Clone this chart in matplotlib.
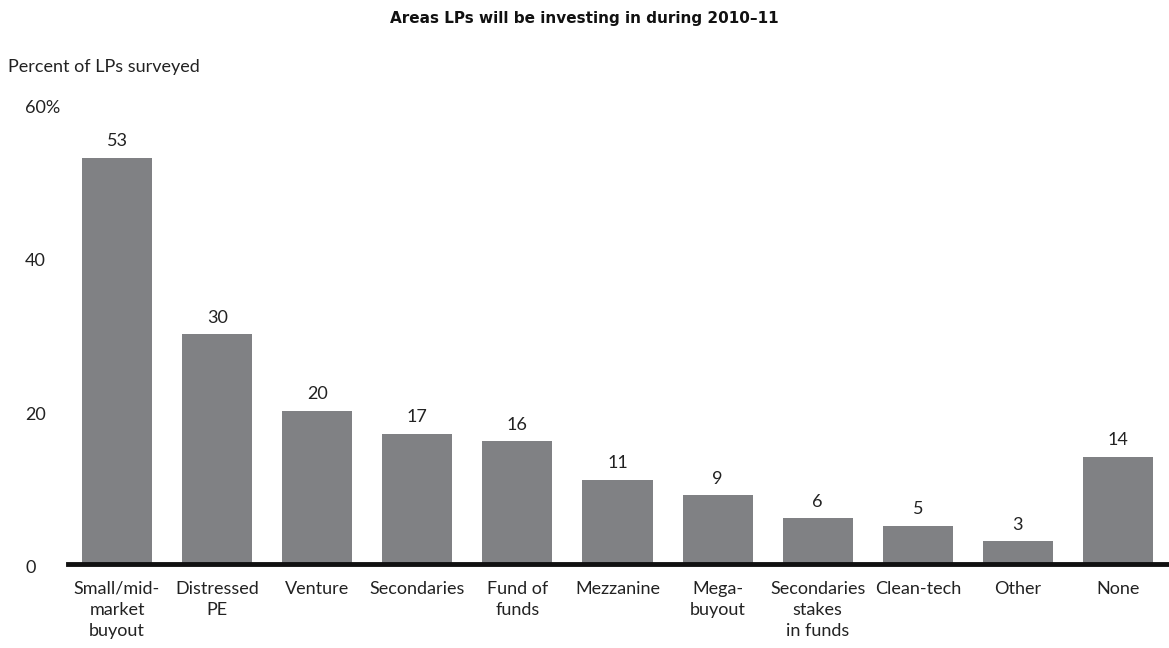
import matplotlib
matplotlib.use("Agg")
import matplotlib.pyplot as plt

categories = ["Small/mid-\nmarket\nbuyout", "Distressed\nPE", "Venture", "Secondaries",
              "Fund of\nfunds", "Mezzanine", "Mega-\nbuyout", "Secondaries\nstakes\nin funds",
              "Clean-tech", "Other", "None"]
values = [53, 30, 20, 17, 16, 11, 9, 6, 5, 3, 14]
yticks = [0, 20, 40, 60]
ytick_labels = ["0", "20", "40", "60%"]

plt.rcParams['font.family'] = ['Lato', 'DejaVu Sans']
TXT = "#222222"

fig = plt.figure(figsize=(11.69, 6.48), dpi=100)
ax = fig.add_axes([68/1169, (648-564)/648, 1 - 68/1169, (564-104)/648])

x = list(range(len(categories)))
ax.bar(x, values, width=0.7, color="#808184", zorder=2)
ax.set_xlim(-0.49, 10.51)
ax.set_ylim(0, 60)

for xi, v in zip(x, values):
    ax.annotate(str(v), (xi, v), xytext=(0, 6), textcoords="offset points",
                ha="center", va="bottom", fontsize=13, color=TXT)

for s in ["top", "right", "left"]:
    ax.spines[s].set_visible(False)
ax.spines["bottom"].set_linewidth(3.5)
ax.spines["bottom"].set_color("#111111")
ax.spines["bottom"].set_zorder(3)

ax.set_xticks(x)
ax.set_xticklabels(categories, fontsize=13, color=TXT, linespacing=1.4)
ax.tick_params(axis="x", length=0, pad=12)

ax.set_yticks([])
for t, lab in zip(yticks, ytick_labels):
    y_disp = ax.transData.transform((0, t))[1]
    fig.text(25/1169, (y_disp - 4)/648, lab, ha="left", va="center", fontsize=13, color=TXT)

fig.text(8/1169, (648-67)/648, "Percent of LPs surveyed", ha="left", va="center",
         fontsize=13, color=TXT)
fig.text(0.5, (648-18)/648, "Areas LPs will be investing in during 2010\u201311", ha="center",
         va="center", fontsize=11, fontweight="bold", color="#111111", family="DejaVu Sans")

fig.savefig("out.png", dpi=100)
